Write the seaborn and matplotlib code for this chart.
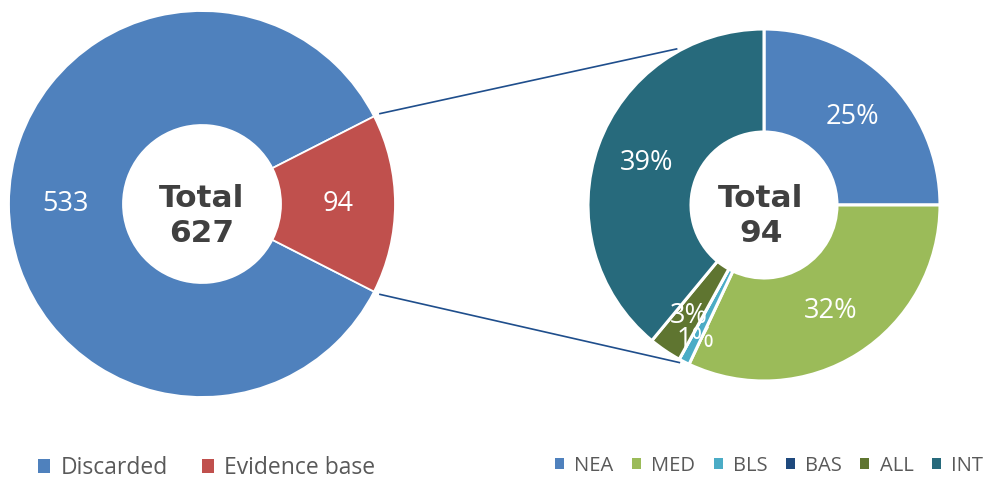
import matplotlib
matplotlib.use("Agg")
import matplotlib.pyplot as plt
import seaborn as sns
import numpy as np

# ---- data ----
overview_labels = ["Discarded", "Evidence base"]
overview_values = [533, 94]
region_labels = ["NEA", "MED", "BLS", "BAS", "ALL", "INT"]
region_pct = [25, 32, 1, 0, 3, 39]

# ---- styles ----
overview_colors = ["#4F81BD", "#C0504D"]
region_colors = ["#4F81BD", "#9BBB59", "#4BACC6", "#1F497D", "#5F7530", "#276A7C"]

sns.set_theme(style="white")
plt.rcParams["font.family"] = ["Open Sans", "DejaVu Sans"]

W, H = 990, 484
fig = plt.figure(figsize=(W / 100, H / 100), dpi=100)
ax = fig.add_axes([0, 0, 1, 1])

L_c, L_r, L_hole = (202, H - 204), 193, 79
R_c, R_r, R_hole = (764, H - 205), 176, 73

total = sum(overview_values)
start_left = 180 * overview_values[1] / total
w1, t1, a1 = ax.pie(
    overview_values, colors=overview_colors, startangle=start_left,
    counterclock=True, center=L_c, radius=L_r,
    autopct=lambda p: f"{p * total / 100:.0f}",
    pctdistance=(L_r + L_hole) / 2 / L_r,
    wedgeprops=dict(width=L_r - L_hole, edgecolor="white", linewidth=1.3),
    textprops=dict(color="white", fontsize=19.5),
)

w2, t2, a2 = ax.pie(
    region_pct, colors=region_colors, startangle=90, counterclock=False,
    center=R_c, radius=R_r,
    autopct=lambda p: f"{p:.0f}%" if p > 0.5 else "",
    pctdistance=0.71,
    wedgeprops=dict(width=R_r - R_hole, edgecolor="white", linewidth=2.2),
    textprops=dict(color="white", fontsize=19.5),
)
# push the thin-slice labels outward
for idx, fac in [(2, 0.86), (4, 0.76)]:
    w = w2[idx]
    mid = np.deg2rad((w.theta1 + w.theta2) / 2)
    a2[idx].set_position((R_c[0] + R_r * fac * np.cos(mid), R_c[1] + R_r * fac * np.sin(mid)))

# centre totals
ax.text(L_c[0], L_c[1] - 12, f"Total\n{total}", ha="center", va="center",
        fontsize=22.5, fontweight="bold", family="DejaVu Sans", color="#404040",
        linespacing=1.3)
ax.text(R_c[0] - 3, R_c[1] - 11, f"Total\n{total - overview_values[0]}", ha="center", va="center",
        fontsize=22.5, fontweight="bold", family="DejaVu Sans", color="#404040",
        linespacing=1.3)

# connector lines between evidence slice and breakdown pie
ev = w1[1]
for ang_l, ang_r in [(ev.theta2, 119), (ev.theta1, 242)]:
    al, ar = np.deg2rad(ang_l), np.deg2rad(ang_r)
    x0 = L_c[0] + L_r * 1.03 * np.cos(al)
    y0 = L_c[1] + L_r * 1.03 * np.sin(al)
    x1 = R_c[0] + R_r * 1.015 * np.cos(ar)
    y1 = R_c[1] + R_r * 1.015 * np.sin(ar)
    ax.plot([x0, x1], [y0, y1], color="#1F4E8C", lw=1.2, solid_capstyle="butt")

ax.set_xlim(0, W)
ax.set_ylim(0, H)
ax.set_aspect("equal")
ax.axis("off")

leg1 = fig.legend(w1, overview_labels, loc="center", bbox_to_anchor=(207 / W, (H - 468) / H),
                  ncol=2, frameon=False, fontsize=16.5, handlelength=0.52, handleheight=0.52,
                  handletextpad=0.45, columnspacing=1.5, labelcolor="#595959")
for h in leg1.legend_handles:
    h.set_edgecolor("none")
leg2 = fig.legend(w2, region_labels, loc="center", bbox_to_anchor=(769 / W, (H - 466) / H),
                  ncol=6, frameon=False, fontsize=14.5, handlelength=0.45, handleheight=0.45,
                  handletextpad=0.5, columnspacing=0.92, labelcolor="#595959")
for h in leg2.legend_handles:
    h.set_edgecolor("none")

fig.savefig("out.png", dpi=100, facecolor="white")
